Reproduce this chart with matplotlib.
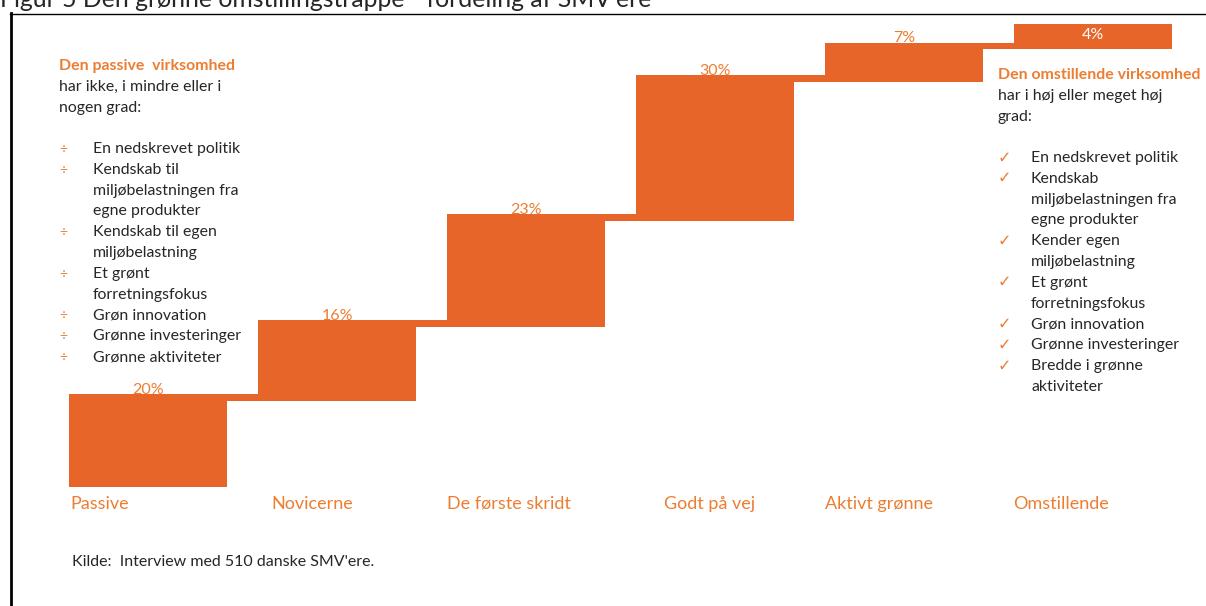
import matplotlib
matplotlib.use("Agg")
import matplotlib.pyplot as plt
from matplotlib.lines import Line2D
from matplotlib.patches import Rectangle

# --- data -------------------------------------------------------------
categories = ["Passive", "Novicerne", "De første skridt", "Godt på vej",
              "Aktivt grønne", "Omstillende"]
shares = [20, 16, 23, 30, 7, 4]          # percent of SMVs per step
value_labels = ["20%", "16%", "23%", "30%", "7%", "4%"]

title = "Figur 5 Den grønne omstillingstrappe - fordeling af SMV'ere"
source = "Kilde:  Interview med 510 danske SMV'ere."

left_heading = "Den passive  virksomhed"
left_intro = ["har ikke, i mindre eller i", "nogen grad:"]
left_items = [
    ["En nedskrevet politik"],
    ["Kendskab til", "miljøbelastningen fra", "egne produkter"],
    ["Kendskab til egen", "miljøbelastning"],
    ["Et grønt", "forretningsfokus"],
    ["Grøn innovation"],
    ["Grønne investeringer"],
    ["Grønne aktiviteter"],
]

right_heading = "Den omstillende virksomhed"
right_intro = ["har i høj eller meget høj", "grad:"]
right_items = [
    ["En nedskrevet politik"],
    ["Kendskab", "miljøbelastningen fra", "egne produkter"],
    ["Kender egen", "miljøbelastning"],
    ["Et grønt", "forretningsfokus"],
    ["Grøn innovation"],
    ["Grønne investeringer"],
    ["Bredde i grønne", "aktiviteter"],
]

# --- style ------------------------------------------------------------
BAR = "#E8652A"
ORANGE = "#ED7D31"
INK = "#262626"
FONT = ["Lato", "DejaVu Sans"]
plt.rcParams["font.family"] = FONT

W, H = 1206, 606
fig = plt.figure(figsize=(W / 100, H / 100), dpi=100)
fig.patch.set_facecolor("white")


def fx(x):
    return x / W


def fy(y):
    return 1 - y / H


# axes over the whole canvas; one unit on x = one step of the staircase
ax = fig.add_axes([0, 0, 1, 1])
ax.set_xlim(-0.783, 5.598)
ax.set_ylim(-25.70, 105.18)
ax.axis("off")

bar_w = 0.836
step = 1.5                       # overlap / connector thickness in % units
label_dx = [-0.413, -0.349, -0.42, -0.27, -0.418, -0.423]

total = 0
for i, v in enumerate(shares):
    base = 0 if i == 0 else total - step
    total += v
    ax.add_patch(Rectangle((i - bar_w / 2, base), bar_w, total - base,
                           facecolor=BAR, edgecolor="none"))
    if i < len(shares) - 1:
        # thin connector to the next step
        ax.add_patch(Rectangle((i + bar_w / 2 - 0.005, total - step),
                               1 - bar_w + 0.01, step,
                               facecolor=BAR, edgecolor="none"))
    if i == len(shares) - 1:
        ax.text(i, total - (total - base) / 2 + 0.3, value_labels[i],
                ha="center", va="center", color="white", fontsize=11.5)
    else:
        ax.text(i, total - 0.6, value_labels[i], ha="center", va="bottom",
                color=ORANGE, fontsize=11.5)
    ax.text(i + label_dx[i], -3.6, categories[i], ha="left", va="center",
            color=ORANGE, fontsize=13)

# --- frame and title --------------------------------------------------
fig.add_artist(Line2D([fx(10), 1], [fy(13.5), fy(13.5)],
                      transform=fig.transFigure, color="black", lw=1))
fig.add_artist(Line2D([fx(11), fx(11)], [fy(13), 0],
                      transform=fig.transFigure, color="black", lw=2))
fig.text(0, fy(7), title, ha="left", va="baseline", fontsize=17.8,
         color=INK)

# --- side text blocks -------------------------------------------------
LINE = 20.8
BODY = 11.4


def text_block(x0, y0, heading, intro, items, bullet, bx, tx, by0,
               bullet_kw):
    fig.text(fx(x0), fy(y0), heading, ha="left", va="center",
             color=ORANGE, fontsize=BODY, fontweight="bold")
    for k, line in enumerate(intro):
        fig.text(fx(x0), fy(y0 + LINE * (k + 1)), line, ha="left",
                 va="center", color=INK, fontsize=BODY)
    n = 0
    for item in items:
        fig.text(fx(bx), fy(by0 + LINE * n), bullet, ha="left",
                 va="center", color=ORANGE, **bullet_kw)
        for line in item:
            fig.text(fx(tx), fy(by0 + LINE * n), line, ha="left",
                     va="center", color=INK, fontsize=BODY)
            n += 1


text_block(59, 66, left_heading, left_intro, left_items, "÷", 59, 93, 149,
           dict(fontsize=10))
text_block(998, 75, right_heading, right_intro, right_items, "✓", 998,
           1031, 158, dict(fontsize=11.5, family=["DejaVu Sans"]))

fig.text(fx(72), fy(562), source, ha="left", va="center", color=INK,
         fontsize=11.5)

fig.savefig("out.png", dpi=100, facecolor="white")
